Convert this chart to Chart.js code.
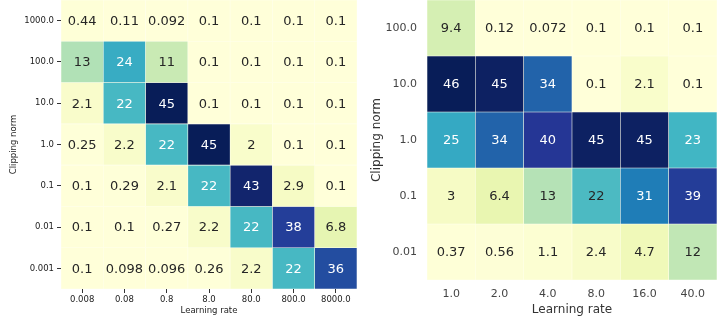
<!DOCTYPE html>
<html>
<head>
<meta charset="utf-8">
<script src="https://cdn.jsdelivr.net/npm/chart.js@4.4.1/dist/chart.umd.min.js"></script>
<style>
  html, body { margin: 0; padding: 0; background: #fff; }
  #wrap { position: relative; width: 720px; height: 324px; overflow: hidden; }
  canvas { position: absolute; top: 0; }
</style>
</head>
<body>
<div id="wrap">
  <canvas id="left" width="360" height="324" style="left:0"></canvas>
  <canvas id="right" width="360" height="324" style="left:360px"></canvas>
</div>
<script>
// ---- Left panel: learning rate x clipping norm ----
const leftLearningRates = ['0.008', '0.08', '0.8', '8.0', '80.0', '800.0', '8000.0'];
const leftClipNorms = ['1000.0', '100.0', '10.0', '1.0', '0.1', '0.01', '0.001'];
const leftClip1000 = [0.44, 0.11, 0.092, 0.1, 0.1, 0.1, 0.1];
const leftClip100 = [13, 24, 11, 0.1, 0.1, 0.1, 0.1];
const leftClip10 = [2.1, 22, 45, 0.1, 0.1, 0.1, 0.1];
const leftClip1 = [0.25, 2.2, 22, 45, 2, 0.1, 0.1];
const leftClip01 = [0.1, 0.29, 2.1, 22, 43, 2.9, 0.1];
const leftClip001 = [0.1, 0.1, 0.27, 2.2, 22, 38, 6.8];
const leftClip0001 = [0.1, 0.098, 0.096, 0.26, 2.2, 22, 36];

// ---- Right panel: learning rate x clipping norm ----
const rightLearningRates = ['1.0', '2.0', '4.0', '8.0', '16.0', '40.0'];
const rightClipNorms = ['100.0', '10.0', '1.0', '0.1', '0.01'];
const rightClip100 = [9.4, 0.12, 0.072, 0.1, 0.1, 0.1];
const rightClip10 = [46, 45, 34, 0.1, 2.1, 0.1];
const rightClip1 = [25, 34, 40, 45, 45, 23];
const rightClip01 = [3, 6.4, 13, 22, 31, 39];
const rightClip001 = [0.37, 0.56, 1.1, 2.4, 4.7, 12];

// YlGnBu colour ramp
const YLGNBU = ['#ffffd9', '#edf8b1', '#c7e9b4', '#7fcdbb', '#41b6c4', '#1d91c0', '#225ea8', '#253494', '#081d58'];
const rampStops = YLGNBU.map(h => [1, 3, 5].map(i => parseInt(h.slice(i, i + 2), 16)));

function ylgnbu(t) {
  t = Math.max(0, Math.min(1, t));
  const p = t * (rampStops.length - 1);
  const i = Math.min(Math.floor(p), rampStops.length - 2);
  const f = p - i;
  return rampStops[i].map((c, k) => Math.round(c + (rampStops[i + 1][k] - c) * f));
}
function luminance(rgb) {
  const lin = rgb.map(c => {
    c /= 255;
    return c <= 0.03928 ? c / 12.92 : Math.pow((c + 0.055) / 1.055, 2.4);
  });
  return 0.2126 * lin[0] + 0.7152 * lin[1] + 0.0722 * lin[2];
}
// two significant digits, trailing zeros dropped
function fmt(v) { return String(parseFloat(v.toPrecision(2))); }

// Writes each cell's value at the centre of its bar
const cellText = {
  id: 'cellText',
  afterDatasetsDraw(chart, args, opts) {
    const ctx = chart.ctx;
    ctx.save();
    ctx.font = opts.font;
    ctx.textAlign = 'center';
    ctx.textBaseline = 'middle';
    chart.data.datasets.forEach((ds, di) => {
      chart.getDatasetMeta(di).data.forEach((bar, j) => {
        ctx.fillStyle = luminance(ds.cellRgb[j]) > 0.40 ? '#262626' : '#ffffff';
        ctx.fillText(fmt(ds.values[j]), bar.x, (bar.y + bar.base) / 2 + 1);
      });
    });
    ctx.restore();
  }
};

function heatmap(canvasId, cols, rows, matrix, look) {
  const flat = matrix.flat();
  const vmin = Math.min(...flat), vmax = Math.max(...flat);
  const datasets = rows.map((rowLabel, r) => {
    const rgb = matrix[r].map(v => ylgnbu((v - vmin) / (vmax - vmin)));
    return {
      label: rowLabel,
      data: matrix[r].map(() => [r - 0.5, r + 0.5]),
      values: matrix[r],
      cellRgb: rgb,
      backgroundColor: rgb.map(c => `rgb(${c[0]},${c[1]},${c[2]})`),
      // cream-tinted cell edges: invisible on pale cells, light seams on dark ones
      borderColor: 'rgba(255,255,217,0.4)',
      borderWidth: 0.6,
      borderSkipped: false,
      barPercentage: 1,
      categoryPercentage: 1,
      grouped: false
    };
  });

  return new Chart(document.getElementById(canvasId), {
    type: 'bar',
    data: { labels: cols, datasets },
    options: {
      responsive: false,
      animation: false,
      devicePixelRatio: 1,
      layout: { padding: { left: 0, right: look.padRight, top: 0, bottom: 0 } },
      plugins: {
        legend: { display: false },
        tooltip: { enabled: false },
        cellText: { font: look.cellFont }
      },
      scales: {
        x: {
          type: 'category',
          offset: true,
          grid: {
            display: true, drawOnChartArea: false, offset: false,
            drawTicks: look.tickLen > 0, tickLength: look.tickLen,
            color: '#333', lineWidth: 1
          },
          border: { display: false },
          ticks: {
            color: look.tickColor, padding: look.xTickPad, maxRotation: 0, autoSkip: false,
            font: { family: 'DejaVu Sans', size: look.tickSize }
          },
          title: {
            display: true, text: 'Learning rate', color: look.titleColor,
            font: { family: 'DejaVu Sans', size: look.titleSize },
            padding: { top: 0, bottom: look.xTitlePad }
          },
          afterFit(scale) {
            scale.height = look.xAxisHeight;
            scale.paddingLeft = 0;
            scale.paddingRight = 0;
          }
        },
        y: {
          type: 'linear',
          min: -0.5,
          max: rows.length - 0.5,
          reverse: true,
          afterBuildTicks(scale) { scale.ticks = rows.map((_, i) => ({ value: i })); },
          grid: {
            display: true, drawOnChartArea: false,
            drawTicks: look.tickLen > 0, tickLength: look.tickLen,
            color: '#333', lineWidth: 1
          },
          border: { display: false },
          ticks: {
            color: look.tickColor, padding: look.yTickPad, autoSkip: false,
            font: { family: 'DejaVu Sans', size: look.tickSize },
            callback: v => rows[v]
          },
          title: {
            display: true, text: 'Clipping norm', color: look.titleColor,
            font: { family: 'DejaVu Sans', size: look.titleSize },
            padding: { top: look.yTitlePad, bottom: 0 }
          },
          afterFit(scale) {
            scale.width = look.yAxisWidth;
            scale.paddingTop = 0;
            scale.paddingBottom = 0;
          }
        }
      }
    },
    plugins: [cellText]
  });
}

heatmap('left', leftLearningRates, leftClipNorms,
  [leftClip1000, leftClip100, leftClip10, leftClip1, leftClip01, leftClip001, leftClip0001],
  {
    padRight: 3, yAxisWidth: 61, xAxisHeight: 35,
    tickLen: 4, tickSize: 8.5, tickColor: '#222', titleSize: 8.5, titleColor: '#222',
    xTickPad: 2, yTickPad: 3, xTitlePad: 8, yTitlePad: 9,
    cellFont: '13px "DejaVu Sans"'
  });

heatmap('right', rightLearningRates, rightClipNorms,
  [rightClip100, rightClip10, rightClip1, rightClip01, rightClip001],
  {
    padRight: 3, yAxisWidth: 67, xAxisHeight: 44,
    tickLen: 0, tickSize: 11, tickColor: '#444', titleSize: 12, titleColor: '#333',
    xTickPad: 8, yTickPad: 10, xTitlePad: 7, yTitlePad: 10,
    cellFont: '13px "DejaVu Sans"'
  });
</script>
</body>
</html>
